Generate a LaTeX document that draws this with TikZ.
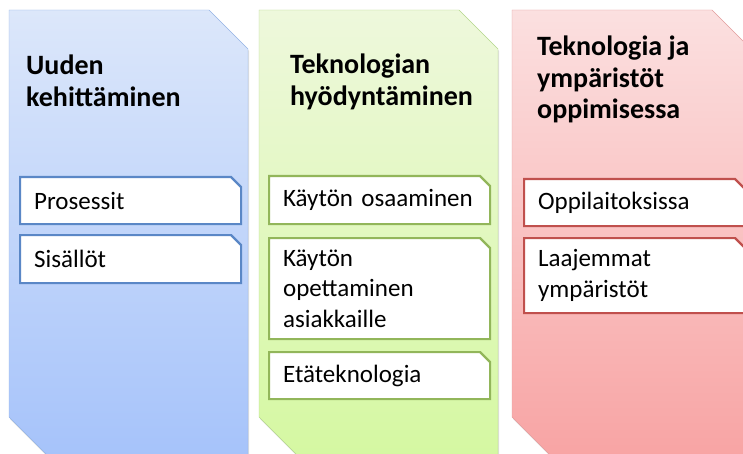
\documentclass[tikz,border=0pt]{standalone}
\usepackage{fontspec}
\setmainfont{Carlito}
\usetikzlibrary{shapes.misc,shadows}

\definecolor{topblue}{HTML}{DCE7FA}
\definecolor{botblue}{HTML}{A6C3FA}
\definecolor{edgeblue}{HTML}{94B4E4}
\definecolor{lineblue}{HTML}{5A87C6}
\definecolor{topgrn}{HTML}{EEF8DC}
\definecolor{botgrn}{HTML}{D5F8A2}
\definecolor{edgegrn}{HTML}{B4D68C}
\definecolor{linegrn}{HTML}{92B65A}
\definecolor{topred}{HTML}{FBE0E0}
\definecolor{botred}{HTML}{F8A4A4}
\definecolor{edgered}{HTML}{E29C9C}
\definecolor{linered}{HTML}{C0504D}

\tikzset{
  headtext/.style={anchor=north west,inner sep=0pt,align=left,
    font=\fontsize{28}{31.5}\selectfont\bfseries},
  itembox/.style={chamfered rectangle,chamfered rectangle corners=north east,
    chamfered rectangle xsep=5pt,chamfered rectangle ysep=5pt,
    anchor=north west,minimum width=221pt,text width=193pt,inner xsep=0pt,inner ysep=0pt,
    align=left,fill=white,line width=2.2pt,font=\fontsize{25}{30.5}\selectfont},
}

\begin{document}
\begin{tikzpicture}[x=1pt,y=-1pt]
  \useasboundingbox (0,0) rectangle (743,454);
  \clip (0,0) rectangle (743,454);
  \foreach \x/\c in {9/blue,259/grn,512/red} % the three columns
    \draw[draw=edge\c,top color=top\c,bottom color=bot\c,
      drop shadow={shadow xshift=1pt,shadow yshift=-2pt,opacity=.25}]
      (\x,10) -- (\x+200,10) -- (\x+239,49) -- (\x+239,456) -- (\x+39,456) -- (\x,417) -- cycle;

  \node[headtext] (uusi) at (26,55) {Uuden\\kehittäminen};
  \node[headtext] (hyoty) at (290,54) {Teknologian\\hyödyntäminen};
  \node[headtext] (oppi) at (537,36) {Teknologia ja\\ympäristöt\\oppimisessa};

  \node[itembox,draw=lineblue,minimum height=47pt] (prosessit) at (19,176) {Prosessit};
  \node[itembox,draw=lineblue,minimum height=48pt] (sisallot) at (19,234) {Sisällöt};
  \node[itembox,draw=linegrn,minimum height=48pt] (osaaminen) at (268,175) {Käytön osaaminen};
  \node[itembox,draw=linegrn,minimum height=101pt] (opetus) at (268,237) {Käytön\\opettaminen\\asiakkaille};
  \node[itembox,draw=linegrn,minimum height=47pt] (eta) at (268,351) {Etäteknologia};
  \node[itembox,draw=linered,minimum height=47pt] (oppilaitos) at (523,178) {Oppilaitoksissa};
  \node[itembox,draw=linered,minimum height=75pt] (laajemmat) at (523,237) {Laajemmat\\ympäristöt};
\end{tikzpicture}
\end{document}
